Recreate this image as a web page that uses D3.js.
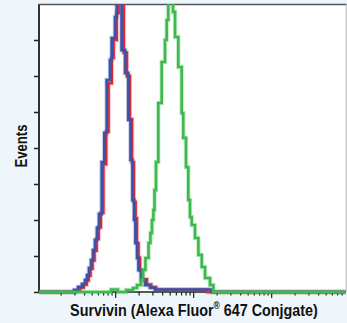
<!DOCTYPE html>
<html>
<head>
<meta charset="utf-8">
<script src="https://cdn.jsdelivr.net/npm/d3@7"></script>
<style>
  html, body { margin: 0; padding: 0; background: #eef5fb; }
</style>
</head>
<body>
<div id="mainDiv"></div>
<script>
'use strict';

// histogram steps: fluorescence (start of step) and event count
var blueX = [1.04, 2.92, 3.29, 3.70, 4.04, 4.29, 4.55, 4.83, 5.12, 5.43, 5.76, 6.11, 6.62, 7.15, 7.67, 8.46, 8.89, 9.80, 10.3, 11.9, 13.2, 14.5, 15.5, 16.4, 17.2, 17.9, 18.8, 19.6, 21.1, 23.8, 27.5, 31.9, 172, 8900];
var blueY = [0, 1.1, 2.8, 4.4, 6.7, 9.4, 13.3, 17.8, 23.3, 28.9, 35.6, 43.3, 72.2, 88.3, 117.8, 128.9, 141.1, 152.8, 172, 134.4, 121.7, 95.6, 73.3, 51.1, 40, 27.2, 18.9, 12.2, 6.7, 3.9, 2.5, 1.4, 0, 0];

var redX = [1.04, 3.10, 3.50, 3.90, 4.25, 4.50, 4.75, 5.05, 5.35, 5.70, 6.05, 6.45, 6.95, 7.55, 8.10, 8.90, 9.40, 10.3, 10.9, 12.7, 13.9, 15.2, 16.2, 17.1, 18.0, 18.7, 19.6, 20.5, 22.1, 25.1, 28.6, 33.0, 150, 8900];
var redY = [0, 1.0, 2.5, 4.2, 6.4, 9.0, 13.0, 17.5, 23.0, 29.5, 36.0, 44.0, 71.0, 89.0, 116, 130, 140, 155, 172, 133, 120, 96, 72, 50, 41, 27, 19, 12, 7, 4, 2.5, 1.2, 0, 0];

var greenX = [1.04, 8.71, 10.7, 13.6, 16.7, 18.8, 21.1, 22.4, 24.1, 26.4, 27.9, 29.2, 30.5, 31.5, 32.9, 35.2, 38.9, 42.9, 45.1, 47.3, 54.3, 57.7, 63.5, 70.2, 73.6, 79.8, 85.3, 89.7, 94.4, 104, 115, 127, 140, 162, 179, 8900];
var greenY = [0, 1.4, 0, 1.1, 2.2, 3.9, 6.7, 12.2, 18.9, 27.2, 32.8, 40, 45.6, 56.7, 72.2, 105, 127.8, 140, 151.1, 172, 155.6, 141.7, 125, 99.4, 85.6, 69.4, 51.1, 41.7, 37.2, 30, 20.6, 13.9, 7.8, 3.9, 0, 0];

var yTicks = [0, 20, 40, 60, 80, 100, 120, 140];
var xDomain = [1.04, 8900];
var yDomain = [0, 160];

var xLabel = "Survivin (Alexa Fluor";
var xLabelTail = " 647 Conjgate)";
var yLabel = "Events";

var myApp = {};

myApp.left = 39;
myApp.right = 345.7;
myApp.top = 4;
myApp.bottom = 292;

myApp.appendSvg = function(element, w, h)
{
    var node = d3.select(element).append("svg")
        .attr("width", w)
        .attr("height", h)
        .style("display", "block");
    return node;
}

myApp.drawSeries = function(g, xs, ys, color, x, y)
{
    var pts = xs.map(function(d, i) { return [d, ys[i]]; });
    var line = d3.line()
        .x(function(d) { return x(d[0]); })
        .y(function(d) { return y(d[1]); })
        .curve(d3.curveStepAfter);

    // soft halo to mimic the blurred scan
    g.append("path")
        .attr("d", line(pts))
        .attr("fill", "none")
        .attr("stroke", color)
        .attr("stroke-opacity", 0.3)
        .attr("stroke-width", 4.4);
    g.append("path")
        .attr("d", line(pts))
        .attr("fill", "none")
        .attr("stroke", color)
        .attr("stroke-width", 2.6);
}

// squeeze a label horizontally to a wanted length (condensed face)
myApp.fitText = function(node, cx, cy, rot, wanted)
{
    var w = node.node().getBBox().width;
    var s = wanted / w;
    node.attr("transform", "translate(" + cx + "," + cy + ") rotate(" + rot + ") scale(" + s + ",1)");
}

myApp.run = function()
{
    var svg = myApp.appendSvg("#mainDiv", 347, 323);

    var x = d3.scaleLog().domain(xDomain).range([myApp.left, myApp.right]);
    var y = d3.scaleLinear().domain(yDomain).range([myApp.bottom, myApp.top]);

    svg.append("rect")
        .attr("x", myApp.left)
        .attr("y", myApp.top)
        .attr("width", myApp.right - myApp.left)
        .attr("height", myApp.bottom - myApp.top)
        .attr("fill", "white");

    svg.append("clipPath").attr("id", "plotClip")
        .append("rect")
        .attr("x", myApp.left)
        .attr("y", myApp.top)
        .attr("width", myApp.right - myApp.left)
        .attr("height", myApp.bottom - myApp.top + 3);

    // x axis: log ticks pointing down
    var xTicks = x.ticks();
    var xg = svg.append("g");
    xg.selectAll("line")
        .data(xTicks)
        .enter()
        .append("line")
            .attr("x1", function(d) { return x(d); })
            .attr("x2", function(d) { return x(d); })
            .attr("y1", myApp.bottom)
            .attr("y2", function(d) {
                var isMajor = Math.abs(Math.log10(d) - Math.round(Math.log10(d))) < 1e-6;
                return myApp.bottom + (isMajor ? 6 : 3.5);
            })
            .attr("stroke", "#222")
            .attr("stroke-width", 1.2);
    xg.append("line")
        .attr("x1", myApp.left).attr("x2", myApp.right)
        .attr("y1", myApp.bottom).attr("y2", myApp.bottom)
        .attr("stroke", "#222").attr("stroke-width", 1.5);

    // y axis
    var yAxis = d3.axisLeft(y).tickValues(yTicks).tickSize(5).tickFormat("");
    var yg = svg.append("g")
        .attr("transform", "translate(" + myApp.left + ",0)")
        .call(yAxis);
    yg.select(".domain").remove();
    yg.selectAll(".tick line").attr("stroke", "#222").attr("stroke-width", 1.5);
    svg.append("line")
        .attr("x1", myApp.left).attr("x2", myApp.left)
        .attr("y1", myApp.top).attr("y2", myApp.bottom + 1)
        .attr("stroke", "#333").attr("stroke-width", 2);

    // frame
    svg.append("line")
        .attr("x1", myApp.left).attr("x2", myApp.right + 1)
        .attr("y1", myApp.top + 0.5).attr("y2", myApp.top + 0.5)
        .attr("stroke", "#555").attr("stroke-width", 1.6);
    svg.append("line")
        .attr("x1", myApp.right + 0.5).attr("x2", myApp.right + 0.5)
        .attr("y1", myApp.top).attr("y2", myApp.bottom)
        .attr("stroke", "#b8b8b8").attr("stroke-width", 1);

    var plot = svg.append("g").attr("clip-path", "url(#plotClip)");
    myApp.drawSeries(plot, redX, redY, "#ec2530", x, y);
    myApp.drawSeries(plot, blueX, blueY, "#3854a6", x, y);
    myApp.drawSeries(plot, greenX, greenY, "#3dba4b", x, y);

    // labels
    var font = "'Liberation Sans Narrow', 'Arial Narrow', 'Liberation Sans', Arial, sans-serif";
    var xt = svg.append("text")
        .attr("x", 0)
        .attr("y", 0)
        .attr("text-anchor", "middle")
        .attr("font-family", font)
        .attr("font-weight", "bold")
        .attr("font-size", "17px")
        .attr("fill", "#111");
    xt.append("tspan").text(xLabel);
    xt.append("tspan").text("\u00AE").attr("font-size", "10px").attr("dy", -7);
    xt.append("tspan").text(xLabelTail).attr("dy", 7);
    myApp.fitText(xt, 194, 315.5, 0, 248);

    var yt = svg.append("text")
        .attr("x", 0)
        .attr("y", 0)
        .attr("text-anchor", "middle")
        .attr("font-family", font)
        .attr("font-weight", "bold")
        .attr("font-size", "17px")
        .attr("fill", "#111")
        .text(yLabel);
    myApp.fitText(yt, 27, 146, -90, 43);
}

window.onload = myApp.run;
</script>
</body>
</html>
